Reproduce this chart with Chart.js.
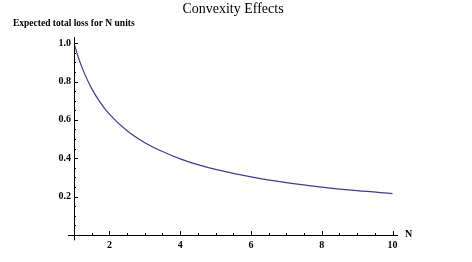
<!DOCTYPE html>
<html><head><meta charset="utf-8">
<script src="https://cdn.jsdelivr.net/npm/chart.js@4/dist/chart.umd.min.js"></script>
<style>html,body{margin:0;padding:0;background:#fff;}#wrap{width:472px;height:262px;position:relative;}</style>
</head><body><div id="wrap"><canvas id="c" width="472" height="262"></canvas></div>
<script>
const nValues = [1, 1.1, 1.25, 1.5, 1.75, 2, 2.5, 3, 3.5, 4, 4.5, 5, 6, 7, 8, 9, 10];
const lossValues = [1.0, 0.938, 0.862, 0.763, 0.689, 0.630, 0.543, 0.481, 0.435, 0.397, 0.367, 0.342, 0.303, 0.273, 0.250, 0.231, 0.216];
const xTickLabels = [2, 4, 6, 8, 10];
const yTickLabels = [0.2, 0.4, 0.6, 0.8, 1.0];
const titleText = 'Convexity Effects';
const yAxisTitle = 'Expected total loss for N units';
const xAxisTitle = 'N';

const axesPlugin = {
  id: 'mmaAxes',
  afterDatasetsDraw(chart) {
    const ctx = chart.ctx, xs = chart.scales.x, ys = chart.scales.y;
    const x0 = xs.getPixelForValue(1), y0 = ys.getPixelForValue(0);
    ctx.save();
    ctx.strokeStyle = '#000'; ctx.lineWidth = 1;
    ctx.beginPath();
    ctx.moveTo(xs.getPixelForValue(0.83), y0 + 0.5); ctx.lineTo(xs.right, y0 + 0.5);
    ctx.moveTo(x0 + 0.5, ys.getPixelForValue(-0.028)); ctx.lineTo(x0 + 0.5, ys.top);
    ctx.stroke();
    ctx.beginPath();
    for (let k = 3; k <= 20; k++) {
      const v = k / 2;
      const px = Math.round(xs.getPixelForValue(v)) + 0.5;
      const major = k % 4 === 0;
      ctx.moveTo(px, y0); ctx.lineTo(px, y0 - (major ? 4 : 2));
    }
    for (let k = 1; k <= 20; k++) {
      const v = k / 20;
      const py = Math.round(ys.getPixelForValue(v)) + 0.5;
      const major = k % 4 === 0;
      ctx.moveTo(x0, py); ctx.lineTo(x0 + (major ? 4 : 2), py);
    }
    ctx.stroke();
    ctx.fillStyle = '#000';
    ctx.font = 'bold 10px "Liberation Serif"';
    ctx.textAlign = 'center'; ctx.textBaseline = 'top';
    xTickLabels.forEach(v => ctx.fillText(String(v), xs.getPixelForValue(v), y0 + 5));
    ctx.textAlign = 'right'; ctx.textBaseline = 'middle';
    yTickLabels.forEach(v => ctx.fillText(v.toFixed(1), x0 - 3, ys.getPixelForValue(v)));
    ctx.textAlign = 'left';
    ctx.font = 'bold 10px "Liberation Serif"';
    ctx.fillText(xAxisTitle, xs.right + 7, y0 - 1);
    ctx.font = 'bold 9.5px "Liberation Serif"';
    ctx.textBaseline = 'alphabetic';
    ctx.fillText(yAxisTitle, 13, 26);
    ctx.font = '14px "Liberation Serif"';
    ctx.textAlign = 'center';
    ctx.fillText(titleText, 233, 13);
    ctx.restore();
  }
};

new Chart(document.getElementById('c'), {
  type: 'line',
  data: {
    datasets: [{
      data: nValues.map((n, i) => ({x: n, y: lossValues[i]})),
      borderColor: '#3d3d9c', borderWidth: 1.2, pointRadius: 0,
      cubicInterpolationMode: 'monotone', fill: false
    }]
  },
  options: {
    responsive: false, animation: false,
    layout: {padding: {left: 74, right: 74, top: 37, bottom: 27}},
    plugins: {legend: {display: false}, tooltip: {enabled: false}, title: {display: false}},
    scales: {
      x: {type: 'linear', min: 1, max: 10.155, display: false},
      y: {type: 'linear', min: 0, max: 1.032, display: false}
    }
  },
  plugins: [axesPlugin]
});
</script></body></html>
